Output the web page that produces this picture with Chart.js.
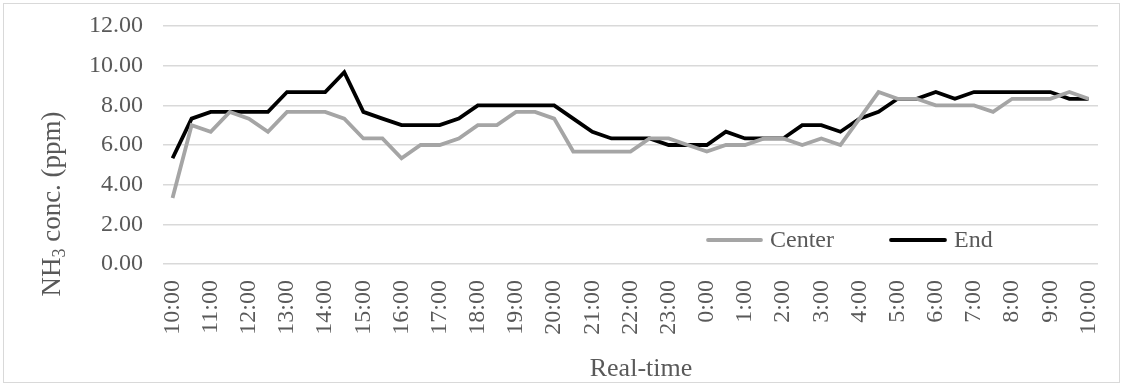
<!DOCTYPE html>
<html>
<head>
<meta charset="utf-8">
<script src="https://cdn.jsdelivr.net/npm/chart.js@4/dist/chart.umd.min.js"></script>
<style>
    body { margin: 0; background: #fff; }
    #wrap { position: relative; width: 1125px; height: 388px; }
    #cadre { position: absolute; left: 3px; top: 3px; width: 1117px; height: 380px; border: 1px solid #d9d9d9; box-sizing: border-box; }
    canvas { position: absolute; left: 0; top: 0; }
</style>
</head>
<body>
<div id="wrap">
    <div id="cadre"></div>
    <canvas id="chart" width="1125" height="388"></canvas>
</div>
<script>
// Heures (toutes les 30 minutes, de 10:00 à 10:00 le lendemain)
const hours = [10, 11, 12, 13, 14, 15, 16, 17, 18, 19, 20, 21, 22, 23, 0, 1, 2, 3, 4, 5, 6, 7, 8, 9, 10];

// Concentrations NH3 (ppm)
const centerValues = [3.33, 7.00, 6.67, 7.67, 7.33, 6.67, 7.67, 7.67, 7.67, 7.33, 6.33, 6.33, 5.33, 6.00, 6.00, 6.33, 7.00,
    7.00, 7.67, 7.67, 7.33, 5.67, 5.67, 5.67, 5.67, 6.33, 6.33, 6.00, 5.67, 6.00, 6.00, 6.33, 6.33,
    6.00, 6.33, 6.00, 7.33, 8.67, 8.33, 8.33, 8.00, 8.00, 8.00, 7.67, 8.33, 8.33, 8.33, 8.67, 8.33];
const endValues = [5.33, 7.33, 7.67, 7.67, 7.67, 7.67, 8.67, 8.67, 8.67, 9.67, 7.67, 7.33, 7.00, 7.00, 7.00, 7.33, 8.00,
    8.00, 8.00, 8.00, 8.00, 7.33, 6.67, 6.33, 6.33, 6.33, 6.00, 6.00, 6.00, 6.67, 6.33, 6.33, 6.33,
    7.00, 7.00, 6.67, 7.33, 7.67, 8.33, 8.33, 8.67, 8.33, 8.67, 8.67, 8.67, 8.67, 8.67, 8.33, 8.33];

// Graduations de l'axe Y
const yTicks = [0, 2, 4, 6, 8, 10, 12];

const FONT = "'Liberation Serif', 'Times New Roman', serif";
const TEXT_COLOR = '#595959';

// Construire les étiquettes (une par demi-heure)
const labels = [];
hours.forEach((h, i) => {
    labels.push(h + ':00');
    if (i < hours.length - 1) labels.push(h + ':30');
});

// Plugin pour les titres des axes et la légende dans la zone du graphique
const decorPlugin = {
    id: 'decor',
    afterDraw(chart) {
        const ctx = chart.ctx;
        ctx.save();
        ctx.fillStyle = TEXT_COLOR;
        ctx.textBaseline = 'middle';

        // Titre de l'axe Y : NH3 avec indice
        ctx.save();
        ctx.translate(53, 204);
        ctx.rotate(-Math.PI / 2);
        const p1 = 'NH', p2 = '3', p3 = ' conc. (ppm)';
        ctx.font = '27px ' + FONT;
        const w1 = ctx.measureText(p1).width;
        const w3 = ctx.measureText(p3).width;
        ctx.font = '18px ' + FONT;
        const w2 = ctx.measureText(p2).width;
        let x = -(w1 + w2 + w3) / 2;
        ctx.textAlign = 'left';
        ctx.font = '27px ' + FONT;
        ctx.fillText(p1, x, 0);
        x += w1;
        ctx.font = '18px ' + FONT;
        ctx.fillText(p2, x, 7);
        x += w2;
        ctx.font = '27px ' + FONT;
        ctx.fillText(p3, x, 0);
        ctx.restore();

        // Titre de l'axe X
        ctx.font = '26px ' + FONT;
        ctx.textAlign = 'center';
        ctx.fillText('Real-time', 641, 369);

        // Légende
        ctx.font = '24px ' + FONT;
        const items = [
            { ds: chart.data.datasets[0], x0: 708, x1: 761 },
            { ds: chart.data.datasets[1], x0: 891, x1: 945 }
        ];
        items.forEach(item => {
            ctx.strokeStyle = item.ds.borderColor;
            ctx.lineWidth = item.ds.borderWidth;
            ctx.lineCap = 'round';
            ctx.beginPath();
            ctx.moveTo(item.x0, 240);
            ctx.lineTo(item.x1, 240);
            ctx.stroke();
            ctx.textAlign = 'left';
            ctx.fillText(item.ds.label, item.x1 + 9, 241);
        });
        ctx.restore();
    }
};

const chart = new Chart(document.getElementById('chart'), {
    type: 'line',
    data: {
        labels: labels,
        datasets: [{
            label: 'Center',
            data: centerValues,
            borderColor: '#a5a5a5',
            borderWidth: 3.8,
            pointRadius: 0,
            tension: 0
        }, {
            label: 'End',
            data: endValues,
            borderColor: '#000000',
            borderWidth: 3.8,
            pointRadius: 0,
            tension: 0
        }]
    },
    options: {
        responsive: false,
        animation: false,
        layout: { padding: { left: 0, right: 27, top: 26, bottom: 0 } },
        plugins: {
            legend: { display: false },
            tooltip: { enabled: false }
        },
        scales: {
            x: {
                offset: true,
                grid: { display: false, drawTicks: false },
                border: { display: false },
                ticks: {
                    autoSkip: false,
                    maxRotation: 90,
                    minRotation: 90,
                    padding: 16,
                    color: TEXT_COLOR,
                    font: { family: FONT, size: 24 },
                    callback: function(value, index) {
                        return index % 2 === 0 ? this.getLabelForValue(value) : '';
                    }
                },
                afterFit(scale) {
                    scale.height = 388 - 264;
                    scale.paddingLeft = 0;
                    scale.paddingRight = 0;
                }
            },
            y: {
                min: yTicks[0],
                max: yTicks[yTicks.length - 1],
                afterBuildTicks(scale) { scale.ticks = yTicks.map(v => ({ value: v })); },
                grid: { color: '#d9d9d9', lineWidth: 1.5, drawTicks: false },
                border: { display: false },
                ticks: {
                    padding: 20,
                    color: TEXT_COLOR,
                    font: { family: FONT, size: 24 },
                    callback: v => v.toFixed(2)
                },
                afterFit(scale) {
                    scale.width = 163;
                    scale.paddingTop = 0;
                    scale.paddingBottom = 0;
                }
            }
        }
    },
    plugins: [decorPlugin]
});
</script>
</body>
</html>
